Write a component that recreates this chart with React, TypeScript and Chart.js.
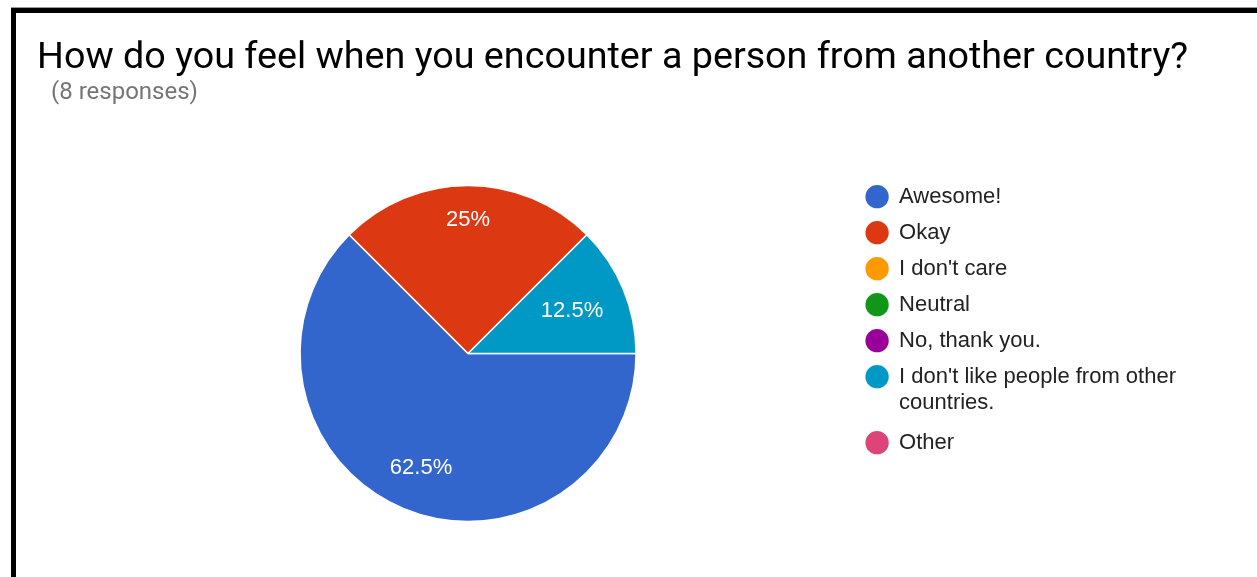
import React, { useEffect, useRef } from "react";
import { Chart, registerables } from "chart.js";

Chart.register(...registerables);

const TITLE = "How do you feel when you encounter a person from another country?";
const SUBTITLE = "(8 responses)";
const categories = [
  "Awesome!",
  "Okay",
  "I don't care",
  "Neutral",
  "No, thank you.",
  "I don't like people from other countries.",
  "Other",
];
const responses = [5, 2, 0, 0, 0, 1, 0];
const sliceColors = ["#3366cc", "#dc3912", "#ff9900", "#109618", "#990099", "#0099c6", "#dd4477"];

const LEGEND_FONT = '22px Arial, "Liberation Sans", sans-serif';

function wrapText(ctx: CanvasRenderingContext2D, text: string, maxW: number): string | string[] {
  ctx.save();
  ctx.font = LEGEND_FONT;
  const words = text.split(" ");
  const lines: string[] = [];
  let cur = "";
  for (const w of words) {
    const test = cur ? cur + " " + w : w;
    if (ctx.measureText(test).width > maxW && cur) {
      lines.push(cur);
      cur = w;
    } else {
      cur = test;
    }
  }
  if (cur) lines.push(cur);
  ctx.restore();
  return lines.length > 1 ? lines : lines[0];
}

const pieLabels = {
  id: "pieLabels",
  afterDatasetsDraw(chart: any) {
    const meta = chart.getDatasetMeta(0);
    const data = chart.data.datasets[0].data as number[];
    const total = data.reduce((a, b) => a + b, 0);
    const ctx = chart.ctx as CanvasRenderingContext2D;
    ctx.save();
    ctx.font = '22px Arial, "Liberation Sans", sans-serif';
    ctx.fillStyle = "#ffffff";
    ctx.textAlign = "center";
    ctx.textBaseline = "middle";
    meta.data.forEach((arc: any, i: number) => {
      const v = data[i];
      if (!v) return;
      const { x, y, startAngle, endAngle, outerRadius } = arc.getProps(
        ["x", "y", "startAngle", "endAngle", "outerRadius"],
        true
      );
      const pct = Math.round((v / total) * 1000) / 10;
      const txt = pct + "%";
      const mid = (startAngle + endAngle) / 2;
      const dx = Math.cos(mid);
      const dy = Math.sin(mid);
      const w = ctx.measureText(txt).width;
      const h = 16;
      const T = 0.86 * outerRadius;
      const b = Math.abs(dx) * w / 2 + Math.abs(dy) * h / 2;
      const c = (w * w + h * h) / 4 - T * T;
      const d = -b + Math.sqrt(b * b - c);
      ctx.fillText(txt, x + dx * d, y + dy * d + 1);
    });
    ctx.restore();
  },
};

export default function App() {
  const canvasRef = useRef<HTMLCanvasElement | null>(null);

  useEffect(() => {
    document.body.style.margin = "0";
    document.body.style.overflow = "hidden";
    const canvas = canvasRef.current;
    if (!canvas) return;
    const chart = new Chart(canvas, {
      type: "pie",
      data: {
        labels: categories,
        datasets: [
          {
            data: responses,
            backgroundColor: sliceColors,
            borderColor: "#ffffff",
            borderWidth: 1.5,
            radius: 168,
          },
        ],
      },
      options: {
        animation: false,
        responsive: false,
        rotation: 90,
        layout: { padding: { left: 68, top: 158.7, bottom: 41.7, right: 71 } },
        plugins: {
          tooltip: { enabled: false },
          title: { display: false },
          legend: {
            position: "right",
            align: "start",
            labels: {
              usePointStyle: true,
              pointStyle: "circle",
              boxWidth: 22,
              boxHeight: 16.5,
              padding: 14,
              color: "#222222",
              font: { family: 'Arial, "Liberation Sans", sans-serif', size: 22, lineHeight: 26 / 22 },
              generateLabels: (ch: any) =>
                categories.map((label, i) => ({
                  text: wrapText(ch.ctx, label, 300),
                  fillStyle: sliceColors[i],
                  strokeStyle: sliceColors[i],
                  lineWidth: 0,
                  pointStyle: "circle",
                  hidden: false,
                  index: i,
                  fontColor: "#222222",
                })),
            },
          },
        },
      },
      plugins: [pieLabels],
    });
    return () => chart.destroy();
  }, []);

  return (
    <div style={{ position: "absolute", left: 0, top: 0, width: 1257, height: 577, overflow: "hidden", background: "#fff" }}>
      <div style={{ position: "absolute", left: 11, top: 7, width: 1246, height: 1, background: "#9a9a9a" }} />
      <div
        style={{
          position: "absolute",
          left: 11,
          top: 8,
          width: 1246,
          height: 569,
          boxSizing: "border-box",
          borderTop: "5px solid #000",
          borderLeft: "5px solid #000",
        }}
      />
      <canvas
        ref={canvasRef}
        width={1241}
        height={564}
        style={{ position: "absolute", left: 16, top: 13, width: 1241, height: 564 }}
      />
      <div
        style={{
          position: "absolute",
          left: 37,
          top: 36.5,
          fontFamily: "Roboto, sans-serif",
          fontSize: 37.7,
          lineHeight: "37px",
          color: "#000",
          whiteSpace: "nowrap",
        }}
      >
        {TITLE}
      </div>
      <div
        style={{
          position: "absolute",
          left: 51,
          top: 79,
          fontFamily: "Roboto, sans-serif",
          fontSize: 24,
          lineHeight: "24px",
          color: "#757575",
          whiteSpace: "nowrap",
        }}
      >
        {SUBTITLE}
      </div>
    </div>
  );
}
